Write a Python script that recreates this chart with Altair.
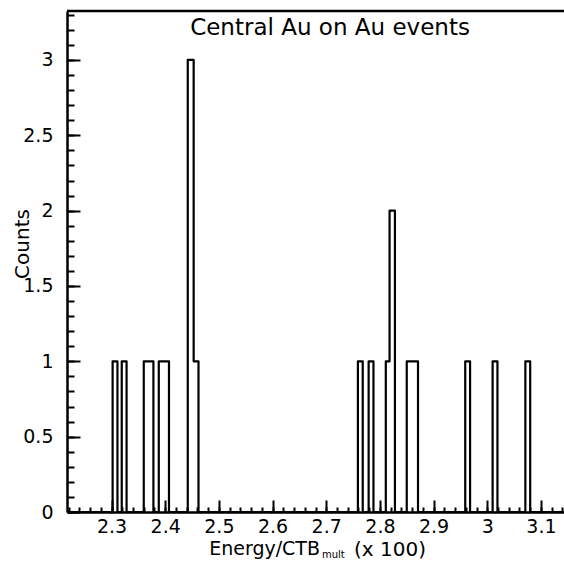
import altair as alt
import pandas as pd

# ---- data ----
bin_lo = [2.302, 2.319, 2.360, 2.388, 2.442, 2.453, 2.759, 2.779, 2.811, 2.818, 2.850, 2.959, 3.010, 3.071]
bin_hi = [2.311, 2.328, 2.378, 2.407, 2.453, 2.462, 2.768, 2.788, 2.818, 2.828, 2.871, 2.968, 3.019, 3.080]
counts = [1, 1, 1, 1, 3, 1, 1, 1, 1, 2, 1, 1, 1, 1]

x_major = [2.3, 2.4, 2.5, 2.6, 2.7, 2.8, 2.9, 3.0, 3.1]
x_minor = [round(2.22 + 0.02 * i, 2) for i in range(47)]
y_major = [0, 0.5, 1, 1.5, 2, 2.5, 3]
y_minor = [round(0.1 * i, 1) for i in range(34)]

X_DOMAIN = [2.217, 3.143]
Y_DOMAIN = [0, 3.325]
W, H = 497, 501
FONT = "DejaVu Sans"

# step outline of the histogram
xs, ys = [X_DOMAIN[0]], [0]
for i, (lo, hi, c) in enumerate(zip(bin_lo, bin_hi, counts)):
    xs.append(lo)
    ys.append(c)
    if i + 1 < len(bin_lo) and bin_lo[i + 1] == hi:
        continue
    xs.append(hi)
    ys.append(0)
xs.append(X_DOMAIN[1])
ys.append(0)
step_df = pd.DataFrame({"x": xs, "y": ys})

xs_ = alt.Scale(domain=X_DOMAIN, nice=False, zero=False)
ys_ = alt.Scale(domain=Y_DOMAIN, nice=False, zero=False)

hist = alt.Chart(step_df).mark_line(
    interpolate="step-after", color="black", strokeWidth=2.2, strokeJoin="round"
).encode(
    x=alt.X("x:Q", scale=xs_, axis=alt.Axis(
        orient="bottom", values=x_major, format="~g", title=None, grid=False,
        ticks=False, labelPadding=5, labelFontSize=19, labelFont=FONT,
        labelColor="black", domain=True, domainColor="black", domainWidth=2.5,
        labelFlush=False, labelOverlap=False)),
    y=alt.Y("y:Q", scale=ys_, axis=alt.Axis(
        orient="left", values=y_major, format="~g", title=None, grid=False,
        ticks=False, labelPadding=14, labelFontSize=19, labelFont=FONT,
        labelColor="black", domain=True, domainColor="black", domainWidth=2.5,
        labelFlush=False, labelOverlap=False)),
)


def tick_layer(xvals, xlen, yvals, ylen):
    return alt.Chart(step_df).mark_point(opacity=0).encode(
        x=alt.X("x:Q", scale=xs_, axis=alt.Axis(
            orient="bottom", values=xvals, offset=-xlen, tickSize=xlen,
            tickWidth=2, tickColor="black", labels=False, domain=False,
            grid=False, title=None)),
        y=alt.Y("y:Q", scale=ys_, axis=alt.Axis(
            orient="left", values=yvals, offset=-ylen, tickSize=ylen,
            tickWidth=2, tickColor="black", labels=False, domain=False,
            grid=False, title=None)),
    )


major = tick_layer(x_major, 12, y_major, 13)
minor = tick_layer(x_minor, 5, y_minor, 7)

top_line = alt.Chart(pd.DataFrame({"a": [0]})).mark_rule(
    color="black", strokeWidth=2.5
).encode(x=alt.value(0), x2=alt.value(W), y=alt.value(0))


def label(text, x, y, size, align="center", baseline="middle", angle=0):
    return alt.Chart(pd.DataFrame({"t": [text]})).mark_text(
        font=FONT, fontSize=size, color="black", align=align,
        baseline=baseline, angle=angle
    ).encode(text="t:N", x=alt.value(x), y=alt.value(y))


title = label("Central Au on Au events", 263, 17, 23)
ylab = label("Counts", -44, 233, 20, angle=270)
xl1 = label("Energy/CTB", 253, 544, 19, align="right", baseline="alphabetic")
xl2 = label("mult", 255, 547, 10, align="left", baseline="alphabetic")
xl3 = label("(x 100)", 287, 545, 20, align="left", baseline="alphabetic")

chart = alt.layer(
    hist, major, minor, top_line, title, ylab, xl1, xl2, xl3
).resolve_axis(
    x="independent", y="independent"
).properties(
    width=W, height=H,
    autosize=alt.AutoSizeParams(type="none"),
    padding={"left": 67, "top": 11, "right": 0, "bottom": 56},
    background="white",
).configure_view(stroke=None)

chart.save("out.html", embed_options={"renderer": "svg", "actions": False})
